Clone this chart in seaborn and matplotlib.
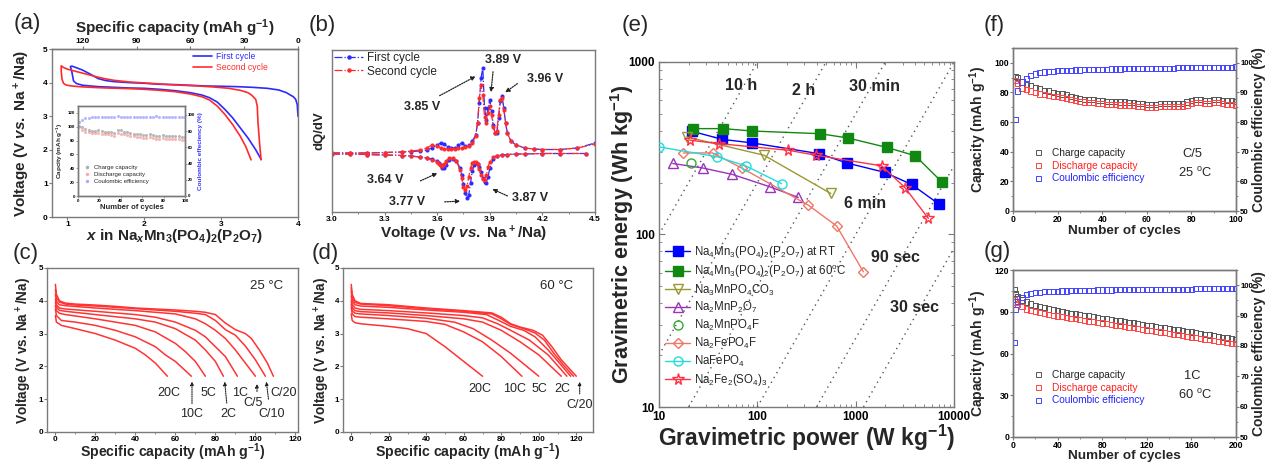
import matplotlib
matplotlib.use("Agg")
import matplotlib.pyplot as plt
import seaborn as sns
from matplotlib.lines import Line2D
from matplotlib.ticker import AutoMinorLocator, NullLocator, NullFormatter

# ---------------------------------------------------------------- data
# (a) first / second cycle, x in NaxMn3(PO4)2(P2O7)
a_first_x = [4.00, 3.99, 3.97, 3.94, 3.90, 3.85, 3.75, 3.60, 3.40, 3.20,
             3.00, 2.80, 2.60, 2.40, 2.20, 2.00, 1.80, 1.60, 1.50, 1.40,
             1.30, 1.20, 1.12, 1.06, 1.04, 1.06, 1.08, 1.12, 1.20, 1.40,
             1.60, 1.80, 2.00, 2.20, 2.40, 2.60, 2.75, 2.85, 2.95, 3.05,
             3.15, 3.25, 3.35, 3.45, 3.52]
a_first_v = [3.00, 3.35, 3.50, 3.58, 3.63, 3.70, 3.78, 3.83, 3.86, 3.88,
             3.89, 3.90, 3.92, 3.94, 3.95, 3.98, 4.00, 4.03, 4.06, 4.12,
             4.25, 4.37, 4.44, 4.49, 4.48, 4.30, 4.05, 3.97, 3.92, 3.88,
             3.86, 3.84, 3.83, 3.80, 3.76, 3.70, 3.63, 3.55, 3.42, 3.20,
             2.95, 2.65, 2.35, 2.00, 1.72]
a_second_x = [3.52, 3.50, 3.48, 3.47, 3.45, 3.40, 3.35, 3.25, 3.10, 2.90,
              2.70, 2.40, 2.00, 1.80, 1.60, 1.50, 1.40, 1.30, 1.20, 1.10,
              1.00, 0.95, 0.92, 0.92, 0.93, 0.95, 0.98, 1.05, 1.15, 1.30,
              1.50, 1.80, 2.00, 2.20, 2.40, 2.60, 2.75, 2.85, 2.95, 3.05,
              3.15, 3.25, 3.32, 3.39]
a_second_v = [1.70, 2.20, 2.80, 3.30, 3.50, 3.62, 3.70, 3.77, 3.83, 3.87,
              3.90, 3.93, 3.99, 4.02, 4.07, 4.11, 4.16, 4.22, 4.28, 4.34,
              4.40, 4.45, 4.50, 4.35, 4.10, 3.98, 3.93, 3.90, 3.88, 3.86,
              3.84, 3.82, 3.80, 3.77, 3.73, 3.66, 3.58, 3.48, 3.30, 3.05,
              2.75, 2.40, 2.10, 1.70]

# (a) inset, cycling at every third cycle
inset_cycles = list(range(1, 101, 3))
inset_charge = [107, 100, 97, 95, 94, 94, 95, 94, 93, 93, 92, 91, 96, 95, 93, 92, 91,
                90, 89, 89, 88, 88, 89, 88, 87, 87, 88, 87, 86, 86, 87, 86, 85, 85]
inset_discharge = [99, 96, 93, 92, 91, 91, 91, 90, 90, 89, 88, 87, 91, 90, 89, 88, 87,
                   86, 85, 85, 84, 84, 85, 84, 83, 83, 84, 83, 82, 82, 83, 82, 81, 81]
inset_ce = [86, 94, 96, 96, 97, 97, 97, 97, 98, 97, 98, 97, 99, 98, 97, 97, 98,
            97, 97, 98, 98, 97, 98, 98, 99, 98, 97, 98, 98, 97, 98, 98, 97, 98]

# (b) dQ/dV, charge (positive) and discharge (negative) branches
b_chg_v = [3.00, 3.10, 3.20, 3.30, 3.40, 3.45, 3.50, 3.54, 3.57, 3.60,
           3.62, 3.64, 3.66, 3.68, 3.70, 3.72, 3.74, 3.76, 3.78, 3.80,
           3.82, 3.83, 3.84, 3.85, 3.86, 3.87, 3.88, 3.89, 3.90, 3.91,
           3.92, 3.93, 3.94, 3.95, 3.96, 3.97, 3.98, 3.99, 4.00,
           4.02, 4.05, 4.10, 4.15, 4.20, 4.30, 4.40, 4.50]
b_chg_first = [0.0, 0.0, 0.0, 0.005, 0.01, 0.015, 0.02, 0.03, 0.05, 0.08,
               0.10, 0.09, 0.06, 0.05, 0.05, 0.08, 0.10, 0.07, 0.08, 0.12,
               0.18, 0.30, 0.50, 0.75, 0.85, 0.45, 0.33, 0.45, 0.53, 0.42,
               0.28, 0.20, 0.20, 0.35, 0.52, 0.57, 0.45, 0.30, 0.20,
               0.12, 0.08, 0.05, 0.04, 0.035, 0.035, 0.05, 0.10]
b_chg_second = [0.0, 0.0, 0.0, 0.005, 0.01, 0.02, 0.03, 0.05, 0.08, 0.07,
                0.05, 0.04, 0.04, 0.04, 0.04, 0.05, 0.05, 0.06, 0.07, 0.10,
                0.17, 0.30, 0.55, 0.68, 0.58, 0.36, 0.30, 0.40, 0.47, 0.38,
                0.26, 0.20, 0.22, 0.38, 0.53, 0.55, 0.43, 0.30, 0.20,
                0.12, 0.08, 0.05, 0.04, 0.035, 0.035, 0.05, 0.09]
b_dis_v = [3.00, 3.10, 3.20, 3.30, 3.40, 3.45, 3.50, 3.54, 3.57, 3.60,
           3.61, 3.62, 3.63, 3.64, 3.65, 3.67, 3.69, 3.71, 3.73,
           3.74, 3.75, 3.76, 3.77, 3.78, 3.79, 3.80, 3.81, 3.82, 3.83,
           3.84, 3.85, 3.86, 3.87, 3.88, 3.89, 3.90,
           3.92, 3.94, 3.97, 4.00, 4.05, 4.10, 4.20, 4.30, 4.45]
b_dis_first = [-0.01, -0.01, -0.015, -0.02, -0.025, -0.03, -0.04, -0.05, -0.06, -0.08,
               -0.10, -0.12, -0.145, -0.15, -0.12, -0.07, -0.06, -0.08, -0.15,
               -0.22, -0.31, -0.40, -0.45, -0.42, -0.30, -0.18, -0.12, -0.10, -0.11,
               -0.14, -0.19, -0.25, -0.29, -0.30, -0.24, -0.15,
               -0.06, -0.03, -0.02, -0.015, -0.01, -0.01, -0.005, -0.005, -0.005]
b_dis_second = [-0.01, -0.01, -0.015, -0.02, -0.025, -0.03, -0.04, -0.05, -0.07, -0.09,
                -0.11, -0.13, -0.13, -0.11, -0.08, -0.05, -0.05, -0.08, -0.17,
                -0.25, -0.34, -0.37, -0.33, -0.24, -0.15, -0.10, -0.09, -0.09, -0.11,
                -0.16, -0.22, -0.26, -0.27, -0.22, -0.14, -0.09,
                -0.04, -0.025, -0.02, -0.015, -0.01, -0.01, -0.005, -0.005, -0.005]

# (c) rate capability at 25 C
c_rates = ["C/20", "C/10", "C/5", "1C", "2C", "5C", "10C", "20C"]
c_cap = [
    [0, 0.5, 2, 5, 10, 20, 30, 40, 50, 60, 70, 75, 80, 85, 90, 95, 98, 102, 106, 109],
    [0, 0.5, 2, 5, 10, 20, 30, 40, 50, 60, 70, 75, 80, 85, 90, 95, 100, 105],
    [0, 0.5, 2, 5, 20, 40, 60, 70, 75, 80, 85, 90, 95, 100],
    [0, 0.5, 2, 5, 20, 40, 50, 60, 70, 75, 80, 85, 91],
    [0, 0.5, 2, 5, 20, 40, 50, 60, 70, 75, 80, 84],
    [0, 0.5, 2, 5, 20, 40, 50, 60, 65, 70, 75],
    [0, 0.5, 3, 10, 20, 30, 40, 50, 55, 60, 68],
    [0, 0.5, 3, 10, 20, 30, 40, 45, 50, 56],
]
c_volt = [
    [4.50, 4.20, 4.00, 3.93, 3.90, 3.87, 3.83, 3.78, 3.75, 3.72, 3.68, 3.65, 3.58, 3.32, 3.12, 3.00, 2.85, 2.50, 2.10, 1.70],
    [4.35, 4.10, 3.96, 3.90, 3.87, 3.84, 3.80, 3.76, 3.72, 3.68, 3.62, 3.58, 3.40, 3.12, 2.95, 2.62, 2.20, 1.70],
    [4.20, 3.98, 3.88, 3.85, 3.78, 3.70, 3.60, 3.45, 3.30, 3.10, 2.85, 2.50, 2.10, 1.70],
    [4.05, 3.88, 3.78, 3.75, 3.68, 3.58, 3.50, 3.35, 3.10, 2.90, 2.60, 2.30, 1.70],
    [3.95, 3.80, 3.71, 3.68, 3.58, 3.45, 3.35, 3.15, 2.80, 2.50, 2.15, 1.70],
    [3.85, 3.70, 3.62, 3.58, 3.45, 3.25, 3.05, 2.70, 2.45, 2.15, 1.70],
    [3.75, 3.55, 3.40, 3.35, 3.25, 3.10, 2.90, 2.60, 2.35, 2.15, 1.70],
    [3.55, 3.35, 3.25, 3.15, 3.00, 2.80, 2.55, 2.35, 2.10, 1.70],
]

# (d) rate capability at 60 C
d_rates = ["C/20", "C/10", "C/5", "1C", "2C", "5C", "10C", "20C"]
d_cap = [
    [0, 0.5, 2, 5, 20, 40, 60, 75, 80, 85, 90, 97, 102, 107, 112, 116, 120],
    [0, 0.5, 2, 5, 20, 40, 60, 75, 80, 85, 92, 98, 103, 108, 113, 118.5],
    [0, 0.5, 2, 5, 20, 40, 60, 72, 78, 85, 92, 98, 105, 111, 117],
    [0, 0.5, 2, 5, 20, 40, 60, 70, 78, 85, 95, 105, 115],
    [0, 0.5, 2, 5, 20, 40, 60, 70, 80, 90, 100, 112],
    [0, 0.5, 2, 5, 20, 40, 55, 65, 75, 85, 100],
    [0, 0.5, 2, 5, 20, 40, 50, 60, 70, 80, 91],
    [0, 0.5, 2, 5, 20, 30, 40, 45, 50, 60, 70],
]
d_volt = [
    [4.50, 4.20, 4.00, 3.92, 3.88, 3.78, 3.70, 3.63, 3.50, 3.30, 3.20, 3.10, 2.95, 2.60, 2.20, 1.95, 1.70],
    [4.40, 4.10, 3.95, 3.90, 3.85, 3.76, 3.68, 3.60, 3.45, 3.28, 3.15, 3.02, 2.80, 2.40, 2.05, 1.70],
    [4.30, 4.00, 3.88, 3.84, 3.80, 3.72, 3.65, 3.58, 3.42, 3.22, 3.10, 2.90, 2.50, 2.10, 1.70],
    [4.15, 3.90, 3.78, 3.74, 3.70, 3.63, 3.55, 3.48, 3.30, 3.10, 2.80, 2.35, 1.70],
    [4.00, 3.80, 3.70, 3.67, 3.63, 3.55, 3.45, 3.35, 3.10, 2.75, 2.35, 1.70],
    [3.90, 3.70, 3.62, 3.60, 3.55, 3.47, 3.35, 3.15, 2.80, 2.40, 1.70],
    [3.80, 3.60, 3.52, 3.50, 3.45, 3.37, 3.28, 3.05, 2.75, 2.30, 1.70],
    [3.60, 3.40, 3.33, 3.30, 3.22, 3.15, 3.00, 2.80, 2.60, 2.15, 1.70],
]

# (e) Ragone plot
e_rt_power = [21.5, 44, 87.5, 427, 809, 1986, 3706, 7031]
e_rt_energy = [397, 356, 340, 294, 260, 229, 195, 150]
e_ht_power = [22.3, 45, 89, 434, 829, 2066, 4045, 7500]
e_ht_energy = [411, 411, 398, 384, 363, 320, 286, 202]
e_co3_power = [19.1, 117, 557]
e_co3_energy = [368, 288, 173]
e_p2o7_power = [13.8, 27.8, 55.7, 134.5, 261]
e_p2o7_energy = [258, 243, 223, 189, 164]
e_mnf_power = [21.2]
e_mnf_energy = [258]
e_fef_power = [17.7, 35.1, 69.3, 330, 641, 1197]
e_fef_energy = [297, 297, 243, 148, 112, 60.8]
e_fepo4_power = [10, 39.2, 76.1, 176.7]
e_fepo4_energy = [322, 282, 250, 197]
e_so4_power = [20.7, 41.1, 206.6, 395, 1838, 3175, 5483]
e_so4_energy = [352, 336, 308, 288, 250, 187, 124]
e_times_h = [10, 2, 0.5, 0.1, 0.025, 1 / 120]
e_time_labels = ["10 h", "2 h", "30 min", "6 min", "90 sec", "30 sec"]

# (f) C/5 at 25 C
f_cycles = [1] + list(range(2, 101, 2))
f_charge = [91, 90, 87, 85.5, 84.5, 83.5, 82.5, 81.5, 81, 80,
            79.5, 79, 78.5, 77.5, 76.5, 76, 75.5, 75, 75, 74.5,
            74.5, 74, 74, 74, 73.5, 73.5, 73, 73, 72.5, 72.5,
            72, 72, 72, 72.5, 72.5, 72.5, 72.5, 72.5, 72.5, 73.5,
            74.5, 75, 75, 74.5, 74.5, 75, 75, 74.5, 74.5, 74.5, 74]
f_discharge = [88, 86, 83, 82, 81, 80, 79, 78.5, 78, 77.5,
               77, 76.5, 76, 75, 74.5, 74, 73.5, 73, 73, 72.5,
               72.5, 72, 72, 72, 71.5, 71.5, 71, 71, 70.5, 70.5,
               70, 70, 70, 70.5, 70.5, 70.5, 70.5, 70.5, 70.5, 71.5,
               72.5, 73, 73, 72.5, 72.5, 73, 73, 72.5, 72, 72, 71.5]
f_ce = [81, 90.5, 93.5, 94.8, 95.6, 96.2, 96.6, 96.9, 97.1, 97.2,
        97.3, 97.4, 97.5, 97.5, 97.6, 97.6, 97.7, 97.7, 97.7, 97.8,
        97.8, 97.8, 97.9, 97.9, 97.9, 98.0, 98.0, 98.0, 98.0, 98.0,
        98.1, 98.1, 98.1, 98.2, 98.2, 98.2, 98.2, 98.3, 98.3, 98.3,
        98.3, 98.4, 98.4, 98.4, 98.4, 98.5, 98.5, 98.5, 98.5, 98.5, 98.6]

# (g) 1C at 60 C
g_cycles = [1, 2] + list(range(4, 201, 4))
g_charge = [106, 103, 101, 98.5, 97, 95.5, 94.5, 93.5, 92.8, 92,
            91.3, 90.7, 90, 89.5, 89, 88.4, 87.9, 87.4, 86.9, 86.4,
            85.9, 85.4, 84.9, 84.4, 83.9, 83.4, 82.9, 82.4, 81.9, 81.4,
            80.9, 80.4, 79.9, 79.4, 78.9, 78.4, 77.9, 77.4, 76.9, 76.4,
            75.9, 75.4, 74.9, 74.4, 73.9, 73.3, 72.8, 72.3, 71.7, 71.1,
            70.5, 70]
g_discharge = [99, 97, 95.5, 93.5, 92, 91, 90, 89.3, 88.6, 88,
               87.4, 86.9, 86.4, 85.9, 85.4, 84.9, 84.4, 83.9, 83.4, 82.9,
               82.4, 81.9, 81.4, 80.9, 80.4, 79.9, 79.4, 78.9, 78.4, 77.9,
               77.4, 76.9, 76.4, 75.9, 75.4, 74.9, 74.4, 73.9, 73.4, 72.9,
               72.4, 71.9, 71.4, 70.9, 70.4, 69.9, 69.4, 68.9, 68.4, 67.9,
               67.4, 67]
g_ce = [81, 92, 94.5, 96, 96.8, 97.2, 97.5, 97.7, 97.8, 97.9,
        98.0, 98.0, 98.1, 98.1, 98.2, 98.2, 98.2, 98.3, 98.3, 98.3,
        98.4, 98.4, 98.4, 98.4, 98.5, 98.5, 98.5, 98.5, 98.5, 98.6,
        98.6, 98.6, 98.6, 98.6, 98.6, 98.7, 98.7, 98.7, 98.7, 98.7,
        98.7, 98.7, 98.8, 98.8, 98.8, 98.8, 98.8, 98.8, 98.8, 98.8,
        98.8, 98.8]

# ---------------------------------------------------------------- style
W, H = 1268, 463
FRAME = "#7a7a7a"
BLUE, RED = "#2b2bff", "#ff2b2b"
CURVE_RED = "#ff3333"

sns.set_style("ticks")
plt.rcParams.update({
    "font.family": ["Liberation Sans", "DejaVu Sans"],
    "font.weight": "bold",
    "axes.labelweight": "bold",
    "mathtext.fontset": "custom",
    "mathtext.rm": "Liberation Sans",
    "mathtext.it": "Liberation Sans:italic:bold",
    "mathtext.bf": "Liberation Sans:bold",
    "mathtext.default": "regular",
    "axes.edgecolor": FRAME,
    "axes.linewidth": 1.0,
    "xtick.color": FRAME,
    "ytick.color": FRAME,
    "xtick.labelcolor": "black",
    "ytick.labelcolor": "black",
})

fig = plt.figure(figsize=(W / 100, H / 100), dpi=100)


def px_axes(rect):
    x0, y0, x1, y1 = rect
    return fig.add_axes([x0 / W, 1 - y1 / H, (x1 - x0) / W, (y1 - y0) / H])


def tidy(ax, size=6, direction="out", pad=1):
    ax.tick_params(which="major", direction=direction, length=2, width=0.8,
                   labelsize=size, pad=pad)
    ax.tick_params(which="minor", direction=direction, length=1.3, width=0.6)


def ylabel_at(axis, rect, x_px):
    # centre of a vertical axis label at pixel column x_px
    x0, _, x1, _ = rect
    axis.label.set_verticalalignment("center")
    axis.set_label_coords((x_px - x0) / (x1 - x0), 0.5)


def xlabel_at(axis, rect, y_px):
    _, y0, _, y1 = rect
    axis.label.set_verticalalignment("center")
    axis.set_label_coords(0.5, (y1 - y_px) / (y1 - y0))


NORMAL = {"weight": "normal"}

# ---------------------------------------------------------------- (a)
rect_a = (52, 49, 298, 217)
ax_a = px_axes(rect_a)
sns.lineplot(x=a_first_x, y=a_first_v, sort=False, estimator=None, color=BLUE,
             lw=1.2, ax=ax_a, label="First cycle", legend=False)
sns.lineplot(x=a_second_x, y=a_second_v, sort=False, estimator=None, color=RED,
             lw=1.2, ax=ax_a, label="Second cycle", legend=False)
ax_a.set_xlim(0.8, 4.0)
ax_a.set_ylim(0, 5)
ax_a.set_xticks([1, 2, 3, 4])
ax_a.set_yticks([0, 1, 2, 3, 4, 5])
tidy(ax_a)
ax_a.set_xlabel(r"$\mathit{x}$ in Na$_\mathit{x}$Mn$_3$(PO$_4$)$_2$(P$_2$O$_7$)", fontsize=11)
ax_a.set_ylabel(r"Voltage (V $\mathit{vs.}$ Na$^+$/Na)", fontsize=11)
xlabel_at(ax_a.xaxis, rect_a, 236)
ylabel_at(ax_a.yaxis, rect_a, 22)
ax_a.legend(loc="upper left", bbox_to_anchor=(0.575, 0.985), frameon=False,
            labelcolor="linecolor", prop={"size": 6.2, "weight": "normal"},
            handlelength=2.1, handletextpad=0.5, labelspacing=0.25,
            borderpad=0, borderaxespad=0)

top = ax_a.secondary_xaxis("top", functions=(lambda x: (4 - x) * 42.86,
                                             lambda c: 4 - c / 42.86))
top.set_xticks([120, 90, 60, 30, 0])
top.tick_params(direction="out", length=2, width=0.8, labelsize=6, pad=1)
top.set_xlabel("Specific capacity (mAh g$^{-1}$)", fontsize=11, labelpad=3.5)

# inset
ax_in = px_axes((78, 106, 185, 196))
ax_in.set_facecolor("white")
sns.scatterplot(x=inset_cycles, y=inset_charge, color="#8c8c8c", s=5, alpha=0.6,
                linewidth=0, ax=ax_in)
sns.scatterplot(x=inset_cycles, y=inset_discharge, color="#f08a8a", s=5, alpha=0.6,
                linewidth=0, ax=ax_in)
ax_in.set_xlim(0, 100)
ax_in.set_ylim(0, 130)
ax_in.set_xticks([0, 20, 40, 60, 80, 100])
ax_in.set_yticks([0, 20, 40, 60, 80, 100, 120])
ax_in.tick_params(direction="out", length=1.5, width=0.5, labelsize=3.2, pad=0.8)
ax_in.set_xlabel("Number of cycles", fontsize=5.5, labelpad=0.8)
ax_in.set_ylabel("Capcity (mAh g$^{-1}$)", fontsize=4.6, labelpad=1.5)
ax_in2 = ax_in.twinx()
sns.scatterplot(x=inset_cycles, y=inset_ce, color="#8a8aff", s=5, alpha=0.6,
                linewidth=0, ax=ax_in2)
ax_in2.set_ylim(0, 111)
ax_in2.set_yticks([0, 20, 40, 60, 80, 100])
ax_in2.tick_params(direction="out", length=1.5, width=0.5, labelsize=3.2, pad=0.8)
ax_in2.set_ylabel("Coulombic effeciency (%)", fontsize=4.6, color="#3333ff", labelpad=1.5)
in_handles = [Line2D([], [], ls="none", marker="o", ms=2.5, mew=0, color=c, alpha=0.7)
              for c in ("#8c8c8c", "#f08a8a", "#8a8aff")]
ax_in2.legend(in_handles, ["Charge capacity", "Discharge capacity", "Coulombic efficiency"],
              loc="lower left", bbox_to_anchor=(0.05, 0.13), frameon=False,
              prop={"size": 4.3, "weight": "normal"}, handlelength=1.2,
              handletextpad=0.6, labelspacing=0.35, borderpad=0, borderaxespad=0)

# ---------------------------------------------------------------- (b)
rect_b = (332, 50, 595, 212)
ax_b = px_axes(rect_b)
b_style = dict(sort=False, estimator=None, lw=0.9, ls="-.", marker="o", ms=2.2,
               legend=False, ax=ax_b)
sns.lineplot(x=b_chg_v, y=b_chg_first, color=BLUE, mec=BLUE, mfc=BLUE, **b_style)
sns.lineplot(x=b_dis_v, y=b_dis_first, color=BLUE, mec=BLUE, mfc=BLUE, **b_style)
sns.lineplot(x=b_chg_v, y=b_chg_second, color=RED, mec=RED, mfc=RED, **b_style)
sns.lineplot(x=b_dis_v, y=b_dis_second, color=RED, mec=RED, mfc=RED, **b_style)
ax_b.set_xlim(3.0, 4.5)
ax_b.set_ylim(-0.59, 1.03)
ax_b.set_xticks([3.0, 3.3, 3.6, 3.9, 4.2, 4.5])
ax_b.xaxis.set_minor_locator(AutoMinorLocator(2))
ax_b.yaxis.set_major_locator(NullLocator())
tidy(ax_b)
ax_b.set_xlabel(r"Voltage (V $\mathit{vs.}$ Na$^+$/Na)", fontsize=11)
ax_b.set_ylabel("dQ/dV", fontsize=9.5)
xlabel_at(ax_b.xaxis, rect_b, 234)
ylabel_at(ax_b.yaxis, rect_b, 320)
b_handles = [Line2D([], [], color=c, ls="-.", lw=0.9, marker="o", ms=2.2)
             for c in (BLUE, RED)]
ax_b.legend(b_handles, ["First cycle", "Second cycle"], loc="upper left",
            frameon=False, prop={"size": 8.5, "weight": "normal"}, handlelength=2.4,
            handletextpad=0.4, labelspacing=0.1, borderpad=0.1, borderaxespad=0.1)
b_notes = [("3.89 V", (3.975, 0.93), (3.92, 0.84), (3.905, 0.58)),
           ("3.96 V", (4.215, 0.74), (4.07, 0.71), (3.975, 0.59)),
           ("3.85 V", (3.513, 0.46), (3.60, 0.56), (3.833, 0.78)),
           ("3.64 V", (3.302, -0.27), (3.49, -0.29), (3.616, -0.19)),
           ("3.77 V", (3.428, -0.49), (3.627, -0.49), (3.747, -0.48)),
           ("3.87 V", (4.13, -0.45), (4.015, -0.44), (3.90, -0.35))]
for txt, tpos, a0, a1 in b_notes:
    ax_b.text(*tpos, txt, fontsize=9, ha="center", va="center")
    ax_b.annotate("", xy=a1, xytext=a0,
                  arrowprops=dict(arrowstyle="-|>", ls=(0, (1, 1)), lw=0.9,
                                  color="#222222", mutation_scale=6))


# ---------------------------------------------------------------- (c), (d)
def rate_panel(rect, caps, volts, xlim, temp, temp_x, ylab_x):
    ax = px_axes(rect)
    for cap, volt in zip(caps, volts):
        sns.lineplot(x=cap, y=volt, sort=False, estimator=None, color=CURVE_RED,
                     lw=1.1, legend=False, ax=ax)
    ax.set_xlim(*xlim)
    ax.set_ylim(0, 5)
    ax.set_xticks([0, 20, 40, 60, 80, 100, 120])
    ax.set_yticks([0, 1, 2, 3, 4, 5])
    ax.xaxis.set_minor_locator(AutoMinorLocator(2))
    tidy(ax, size=5.8, pad=0.6)
    ax.set_xlabel("Specific capacity (mAh g$^{-1}$)", fontsize=10.2)
    ax.set_ylabel("Voltage (V vs. Na$^+$/Na)", fontsize=9.8)
    xlabel_at(ax.xaxis, rect, 452)
    ylabel_at(ax.yaxis, rect, ylab_x)
    ax.text(temp_x, 4.45, temp, fontsize=9.5, ha="center", va="center", **NORMAL)
    return ax


arrow_kw = dict(arrowstyle="-|>", ls=(0, (1, 1)), lw=0.8, color="#222222",
                mutation_scale=5)
ax_c = rate_panel((47, 268, 298, 432), c_cap, c_volt, (-4.2, 121.3),
                  "25 °C", 105.5, 24)
c_label_pos = {"20C": (56.8, 1.2), "5C": (76.7, 1.2), "1C": (92.5, 1.2),
               "C/20": (114.2, 1.2), "10C": (68.3, 0.55), "2C": (86.3, 0.55),
               "C/5": (99.0, 0.88), "C/10": (108.0, 0.55)}
c_arrows = {"10C": ((68.3, 0.78), (68.3, 1.62)), "2C": ((85.8, 0.80), (84.5, 1.62)),
            "C/5": ((100.8, 1.15), (100.8, 1.55)), "C/10": ((106.7, 0.92), (105.3, 1.62))}
for r in c_rates:
    ax_c.text(*c_label_pos[r], r, fontsize=9, ha="center", va="center", **NORMAL)
    if r in c_arrows:
        ax_c.annotate("", xy=c_arrows[r][1], xytext=c_arrows[r][0], arrowprops=arrow_kw)

ax_d = rate_panel((343, 268, 593, 432), d_cap, d_volt, (-4.4, 128.9),
                  "60 °C", 109.7, 322)
d_label_pos = {"20C": (68.4, 1.3), "10C": (87.0, 1.3), "5C": (100.4, 1.3),
               "2C": (112.5, 1.3), "C/20": (121.8, 0.82)}
for r in d_rates:
    if r in d_label_pos:
        ax_d.text(*d_label_pos[r], r, fontsize=9, ha="center", va="center", **NORMAL)
ax_d.annotate("", xy=(121.8, 1.62), xytext=(121.8, 1.08), arrowprops=arrow_kw)

# ---------------------------------------------------------------- (e)
rect_e = (659, 62, 954, 407)
ax_e = px_axes(rect_e)
ax_e.set_xscale("log")
ax_e.set_yscale("log")
for t in e_times_h:
    ax_e.axline((1, t), (10, 10 * t), color="#555555", lw=1.0, ls=(0, (1, 3)), zorder=1)

e_series = [
    (e_rt_power, e_rt_energy, "#0000ff", "s", True,
     r"Na$_4$Mn$_3$(PO$_4$)$_2$(P$_2$O$_7$) at RT"),
    (e_ht_power, e_ht_energy, "#118811", "s", True,
     r"Na$_4$Mn$_3$(PO$_4$)$_2$(P$_2$O$_7$) at 60$^o$C"),
    (e_co3_power, e_co3_energy, "#999933", "v", False, r"Na$_3$MnPO$_4$CO$_3$"),
    (e_p2o7_power, e_p2o7_energy, "#9933bb", "^", False, r"Na$_2$MnP$_2$O$_7$"),
    (e_mnf_power, e_mnf_energy, "#33aa33", "o", False, r"Na$_2$MnPO$_4$F"),
    (e_fef_power, e_fef_energy, "#ee7766", "D", False, r"Na$_2$FePO$_4$F"),
    (e_fepo4_power, e_fepo4_energy, "#22dddd", "o", False, r"NaFePO$_4$"),
    (e_so4_power, e_so4_energy, "#ff3344", "*", False, r"Na$_2$Fe$_2$(SO$_4$)$_3$"),
]
e_handles = []
for px, en, col, mk, filled, lab in e_series:
    ms = 8.5 if mk == "*" else (5.5 if mk == "D" else 6.5)
    fc = col if filled else "none"
    ls = "none" if len(px) == 1 else "-"
    sns.lineplot(x=px, y=en, sort=False, estimator=None, color=col, lw=1.0,
                 ls=ls, marker=mk, ms=ms, mfc=fc, mec=col, mew=1.0,
                 legend=False, ax=ax_e, zorder=3)
    e_handles.append(Line2D([], [], color=col, lw=1.0, ls=ls, marker=mk, ms=ms,
                            mfc=fc, mec=col, mew=1.0))
ax_e.set_xlim(10, 10000)
ax_e.set_ylim(10, 1000)
ax_e.set_xticks([10, 100, 1000, 10000], ["10", "100", "1000", "10000"])
ax_e.set_yticks([10, 100, 1000], ["10", "100", "1000"])
ax_e.xaxis.set_minor_formatter(NullFormatter())
ax_e.yaxis.set_minor_formatter(NullFormatter())
ax_e.tick_params(which="both", top=True, right=True)
ax_e.tick_params(which="major", direction="in", length=4, width=0.8, labelsize=8.5, pad=3)
ax_e.tick_params(which="minor", direction="in", length=2, width=0.6)
ax_e.set_xlabel("Gravimetric power (W kg$^{-1}$)", fontsize=16.5)
ax_e.set_ylabel("Gravimetric energy (Wh kg$^{-1}$)", fontsize=15.5)
xlabel_at(ax_e.xaxis, rect_e, 438)
ylabel_at(ax_e.yaxis, rect_e, 622)
e_text_pos = [(69, 732), (293, 685), (1553, 723), (1256, 151), (2512, 73.6), (4009, 37.7)]
for lab, (tx, ty) in zip(e_time_labels, e_text_pos):
    ax_e.text(tx, ty, lab, fontsize=11.5, ha="center", va="center")
ax_e.legend(e_handles, [s[5] for s in e_series], loc="upper left",
            bbox_to_anchor=(0.02, 0.472), frameon=False,
            prop={"size": 8.3, "weight": "normal"}, handlelength=2.2,
            handletextpad=0.3, labelspacing=0.24, borderpad=0, borderaxespad=0)


# ---------------------------------------------------------------- (f), (g)
def cycle_panel(rect, cycles, charge, discharge, ce, xmax, xstep, ymax, ystep,
                rate, temp, xlab_y):
    ax = px_axes(rect)
    sq = dict(marker="s", s=14, facecolor="none", linewidth=0.7)
    sns.scatterplot(x=cycles, y=charge, edgecolor="#555555", ax=ax, **sq)
    sns.scatterplot(x=cycles, y=discharge, edgecolor="#ff4444", ax=ax, **sq)
    ax.set_xlim(0, xmax)
    ax.set_ylim(0, ymax)
    ax.set_xticks(range(0, xmax + 1, xstep))
    ax.set_yticks(range(0, int(ymax) + 1, ystep))
    ax.xaxis.set_minor_locator(AutoMinorLocator(2))
    ax.yaxis.set_minor_locator(AutoMinorLocator(2))
    tidy(ax, size=6.2, pad=0.6)
    ax.set_xlabel("Number of cycles", fontsize=9.7)
    ax.set_ylabel("Capacity (mAh g$^{-1}$)", fontsize=10)
    xlabel_at(ax.xaxis, rect, xlab_y)
    ylabel_at(ax.yaxis, rect, 978)
    ax2 = ax.twinx()
    sns.scatterplot(x=cycles, y=ce, edgecolor="#4444ff", ax=ax2, **sq)
    ax2.set_ylim(50, 105)
    ax2.set_yticks([50, 60, 70, 80, 90, 100])
    ax2.yaxis.set_minor_locator(AutoMinorLocator(2))
    tidy(ax2, size=5.6)
    ax2.set_ylabel("Coulombic efficiency (%)", fontsize=10)
    ylabel_at(ax2.yaxis, rect, 1259)
    _, y0, _, y1 = rect
    frac = lambda y: (y1 - y) / (y1 - y0)
    cols = ("#555555", "#ff4444", "#4444ff")
    hs = [Line2D([], [], ls="none", marker="s", ms=3.6, mfc="none", mec=c, mew=0.7)
          for c in cols]
    leg = ax2.legend(hs, ["Charge capacity", "Discharge capacity", "Coulombic efficiency"],
                     loc="upper left", bbox_to_anchor=(0.09, frac(y0 + 100)),
                     frameon=False, prop={"size": 7.3, "weight": "normal"},
                     handlelength=1.0, handletextpad=0.9, labelspacing=0.25,
                     borderpad=0, borderaxespad=0)
    for t, c in zip(leg.get_texts(), ("#222222", "#ff2222", "#2222ff")):
        t.set_color(c)
    ax.text(0.806, frac(y0 + 106), rate, transform=ax.transAxes, fontsize=9.3,
            ha="center", va="center", **NORMAL)
    ax.text(0.815, frac(y0 + 125), temp, transform=ax.transAxes, fontsize=9.3,
            ha="center", va="center", **NORMAL)
    return ax


cycle_panel((1013, 48, 1236, 211), f_cycles, f_charge, f_discharge, f_ce,
            100, 20, 110, 20, "C/5", "25 $^o$C", 231)
cycle_panel((1013, 270, 1236, 437), g_cycles, g_charge, g_discharge, g_ce,
            200, 40, 120, 30, "1C", "60 $^o$C", 455.5)

# ---------------------------------------------------------------- panel letters
for letter, (px, py) in {"(a)": (27, 24), "(b)": (322, 26), "(c)": (26, 253),
                         "(d)": (325, 253), "(e)": (635, 25), "(f)": (994, 26),
                         "(g)": (997, 252)}.items():
    fig.text(px / W, 1 - py / H, letter, fontsize=16, ha="center", va="center",
             **NORMAL)

fig.savefig("out.png", dpi=100)
